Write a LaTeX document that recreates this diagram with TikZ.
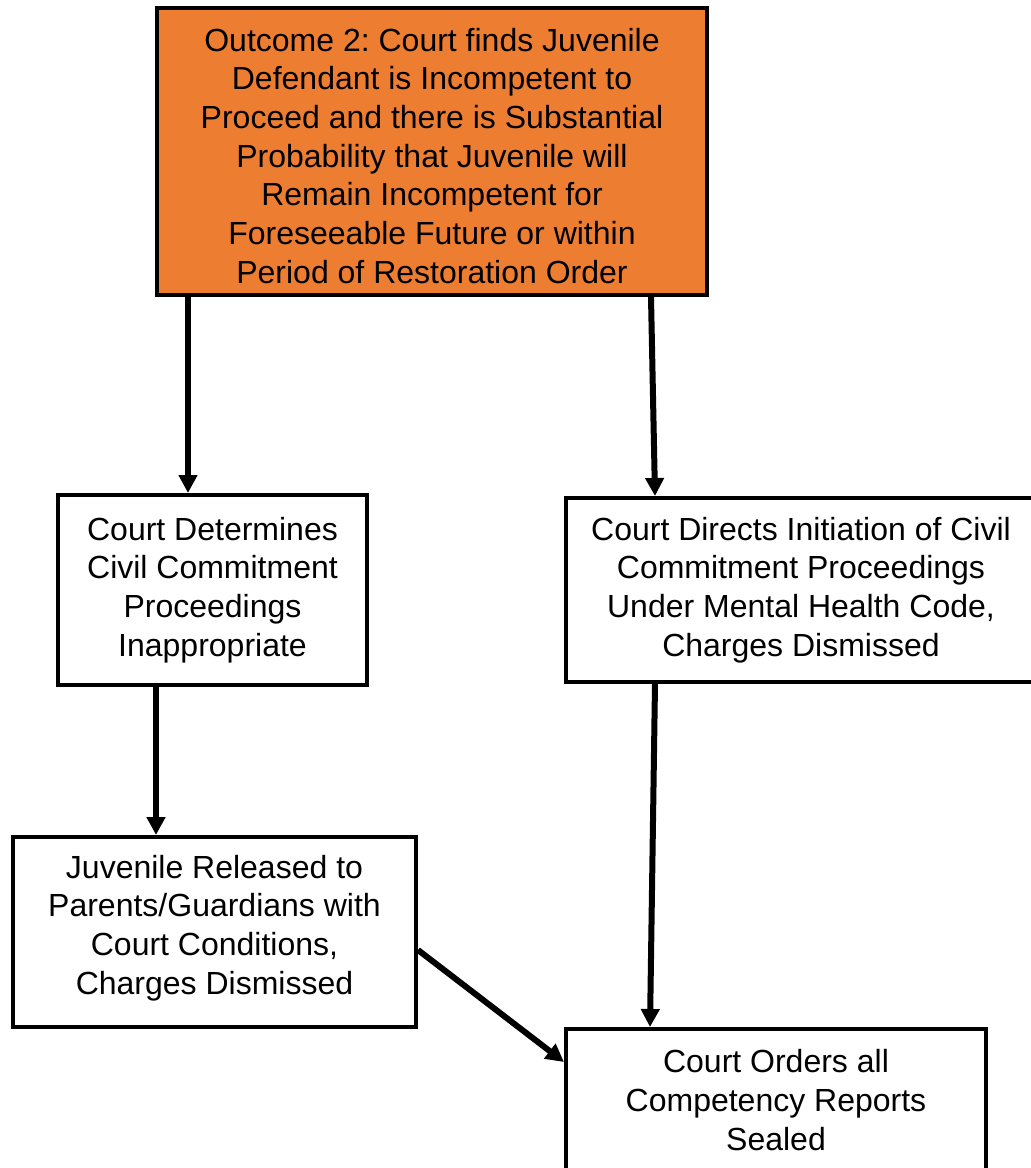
\documentclass[tikz,border=0pt]{standalone}
\usepackage{fontspec}
\setmainfont{Liberation Sans}
\frenchspacing
\usepackage{tikz}
\usetikzlibrary{arrows.meta,positioning}
\definecolor{outorange}{HTML}{ED7D31}
\tikzstyle{box}=[draw=black,line width=3pt,align=center,inner sep=0pt,font=\fontsize{24}{29}\selectfont]
\tikzstyle{arrow}=[line width=4.5pt,->]

\begin{document}
\begin{tikzpicture}[
    x=0.75pt,
    y=-0.75pt,
    >={Triangle[length=13.5pt,width=13.5pt]}
    ]
    \useasboundingbox (0,0) rectangle (1031,1168);
    \node[box,fill=outorange,minimum width=412.5pt,minimum height=215.25pt](outcome) at (432,151.5){\rule{0pt}{23.5pt}Outcome 2: Court finds Juvenile\\Defendant is Incompetent to\\Proceed and there is Substantial\\Probability that Juvenile will\\Remain Incompetent for\\Foreseeable Future or within\\Period of Restoration Order};
    \node[box,minimum width=231.75pt,minimum height=142.5pt](determ) at (212.5,590){Court Determines\\Civil Commitment\\Proceedings\\Inappropriate};
    \node[box,minimum width=352.5pt,minimum height=138pt](direct) at (801,590){Court Directs Initiation of Civil\\Commitment Proceedings\\Under Mental Health Code,\\Charges Dismissed};
    \node[box,minimum width=302.25pt,minimum height=142.5pt](release) at (214.5,932){Juvenile Released to\\Parents/Guardians with\\Court Conditions,\\Charges Dismissed\rule[-11pt]{0pt}{1pt}};
    \node[box,minimum width=315pt,minimum height=106.5pt](sealed) at (776,1100){Court Orders all\\Competency Reports\\Sealed};
    \draw[arrow] (outcome.south -| 188,0) -- (determ.north -| 188,0);
    \draw[arrow] (outcome.south -| 651,0) -- (direct.north -| 655,0);
    \draw[arrow] (determ.south -| 156,0) -- (release.north -| 156,0);
    \draw[arrow] (direct.south -| 655,0) -- (sealed.north -| 650,0);
    \draw[arrow] (release.east |- 0,950) -- (sealed.west |- 0,1062);
\end{tikzpicture}
\end{document}
